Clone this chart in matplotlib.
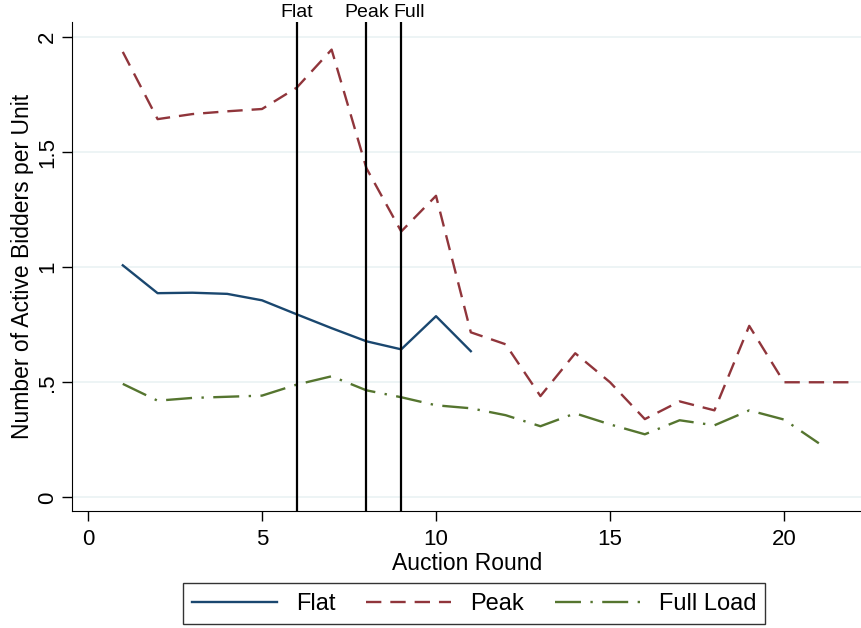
import numpy as np
import matplotlib.pyplot as plt

plt.rcParams['font.family'] = ['Liberation Sans', 'DejaVu Sans']

rounds_flat = np.arange(1, 12)
flat = [1.008, 0.887, 0.889, 0.884, 0.856, 0.795, 0.735, 0.678, 0.643, 0.787, 0.635]

rounds_peak = np.arange(1, 23)
peak = [1.935, 1.643, 1.665, 1.677, 1.687, 1.78, 1.945, 1.43, 1.155, 1.31, 0.717,
        0.665, 0.44, 0.626, 0.50, 0.34, 0.417, 0.378, 0.745, 0.50, 0.50, 0.50]

rounds_full = np.arange(1, 22)
full = [0.493, 0.42, 0.432, 0.437, 0.442, 0.49, 0.526, 0.465, 0.435, 0.40, 0.387,
        0.357, 0.309, 0.365, 0.317, 0.274, 0.335, 0.313, 0.378, 0.338, 0.235]

events = [6, 8, 9]
event_labels = ['Flat', 'Peak', 'Full']
event_shift = [0, 0, 6]   # points, keeps "Peak" and "Full" apart

navy = '#1a476f'
maroon = '#90353b'
green = '#55752f'

fig = plt.figure(figsize=(8.62, 6.28), dpi=100)
ax = fig.add_axes([0.0835, 0.186, 0.9165, 0.779])

for y in [0, 0.5, 1, 1.5, 2]:
    ax.axhline(y, color='#eaf2f3', lw=1.2, zorder=0)

ax.plot(rounds_flat, flat, color=navy, lw=1.7, label='Flat')
ax.plot(rounds_peak, peak, color=maroon, lw=1.7, dashes=(6.5, 3.8), label='Peak')
ax.plot(rounds_full, full, color=green, lw=1.7, dashes=(11, 4, 1, 4), label='Full Load')

for x, lab, dx in zip(events, event_labels, event_shift):
    ax.axvline(x, color='black', lw=1.6, zorder=3)
    ax.annotate(lab, (x, 1.0), xycoords=ax.get_xaxis_transform(),
                xytext=(dx, 1), textcoords='offset points',
                ha='center', va='bottom', fontsize=14, annotation_clip=False)

ax.set_xlim(-0.46, 22.24)
ax.set_ylim(-0.06, 2.065)
ax.set_xticks([0, 5, 10, 15, 20])
ax.set_yticks([0, 0.5, 1, 1.5, 2])
ax.set_yticklabels(['0', '.5', '1', '1.5', '2'], rotation=90, va='center')
ax.tick_params(labelsize=16, length=7, width=1)
ax.tick_params(axis='x', pad=6)
ax.tick_params(axis='y', pad=3)
ax.set_xlabel('Auction Round', fontsize=16.5, labelpad=1)
ax.set_ylabel('Number of Active Bidders per Unit', fontsize=16.5, labelpad=2)

ax.spines['top'].set_visible(False)
ax.spines['right'].set_visible(False)

leg = fig.legend(loc='lower center', bbox_to_anchor=(0.550, -0.013), ncol=3, fontsize=17,
                 frameon=True, fancybox=False, edgecolor='black', handlelength=3.6,
                 columnspacing=1.3, borderpad=0.4, handletextpad=0.8)
leg.get_frame().set_linewidth(1.0)

fig.savefig('out.png', dpi=100)
